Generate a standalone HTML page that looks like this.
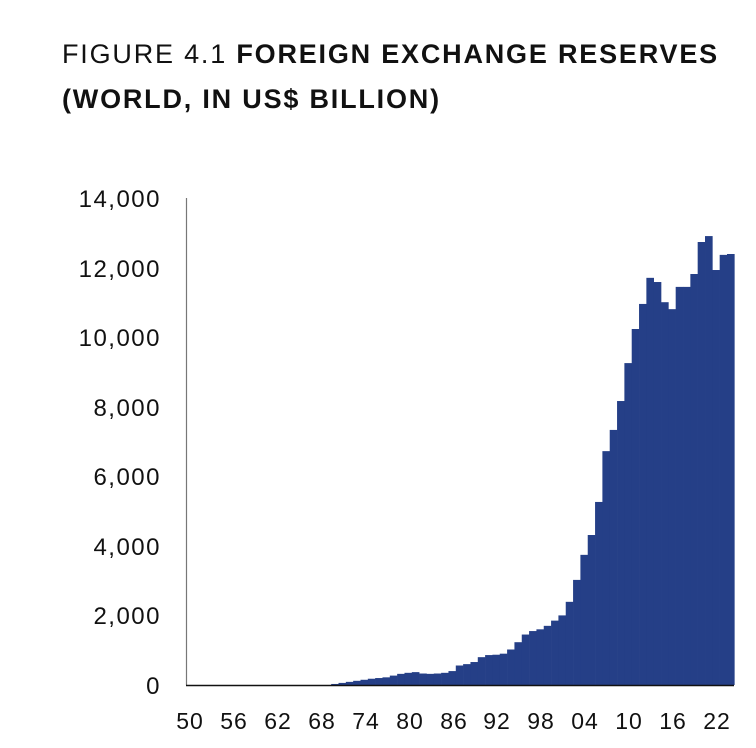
<!DOCTYPE html>
<html><head><meta charset="utf-8"><style>
body{margin:0;background:#fff;}
svg{display:block;font-family:"Liberation Sans",sans-serif;}
</style></head><body>
<svg width="756" height="748" xmlns="http://www.w3.org/2000/svg">
<text x="62" y="63" font-size="27" letter-spacing="1.8" fill="#111">FIGURE 4.1 <tspan font-weight="bold">FOREIGN EXCHANGE RESERVES</tspan></text>
<text x="62" y="108" font-size="27" letter-spacing="1.8" font-weight="bold" fill="#111">(WORLD, IN US$ BILLION)</text>
<g font-size="24" fill="#111" text-anchor="end" letter-spacing="1.5">
<text x="161" y="207">14,000</text>
<text x="161" y="277">12,000</text>
<text x="161" y="346">10,000</text>
<text x="161" y="416">8,000</text>
<text x="161" y="485">6,000</text>
<text x="161" y="555">4,000</text>
<text x="161" y="624">2,000</text>
<text x="161" y="694">0</text>
</g>
<line x1="186.5" y1="198" x2="186.5" y2="685" stroke="#777" stroke-width="1.2"/>
<g id="bars" fill="#253f87"></g>
<line x1="186" y1="685.5" x2="734" y2="685.5" stroke="#111" stroke-width="1.5"/>
<g font-size="23" fill="#111" text-anchor="middle" letter-spacing="1">
<text x="190" y="729">50</text><text x="234" y="729">56</text><text x="278" y="729">62</text>
<text x="322" y="729">68</text><text x="366" y="729">74</text><text x="410" y="729">80</text>
<text x="454" y="729">86</text><text x="497" y="729">92</text><text x="541" y="729">98</text>
<text x="585" y="729">04</text><text x="629" y="729">10</text><text x="673" y="729">16</text>
<text x="717" y="729">22</text>
</g>
</svg>
<script>
var d={1969:30,1970:60,1971:90,1972:120,1973:150,1974:180,1975:200,1976:220,1977:270,1978:320,1979:350,1980:370,1981:330,1982:320,1983:330,1984:350,1985:400,1986:560,1987:600,1988:660,1989:800,1990:860,1991:870,1992:900,1993:1020,1994:1230,1995:1450,1996:1550,1997:1600,1998:1700,1999:1850,2000:2000,2001:2390,2002:3020,2003:3740,2004:4310,2005:5260,2006:6720,2007:7330,2008:8160,2009:9250,2010:10230,2011:10950,2012:11700,2013:11580,2014:11000,2015:10800,2016:11440,2017:11440,2018:11810,2019:12730,2020:12900,2021:11925,2022:12360,2023:12385};
(function(){
var g=document.getElementById('bars');var s='';var w=7.33;
for(var y in d){var x=727-(2023-y)*w;var h=d[y]*0.0348;
s+='<rect x="'+x.toFixed(2)+'" y="'+(685-h).toFixed(2)+'" width="'+(w+0.3).toFixed(2)+'" height="'+h.toFixed(2)+'"/>';}
g.innerHTML=s;})();
</script>
</body></html>
